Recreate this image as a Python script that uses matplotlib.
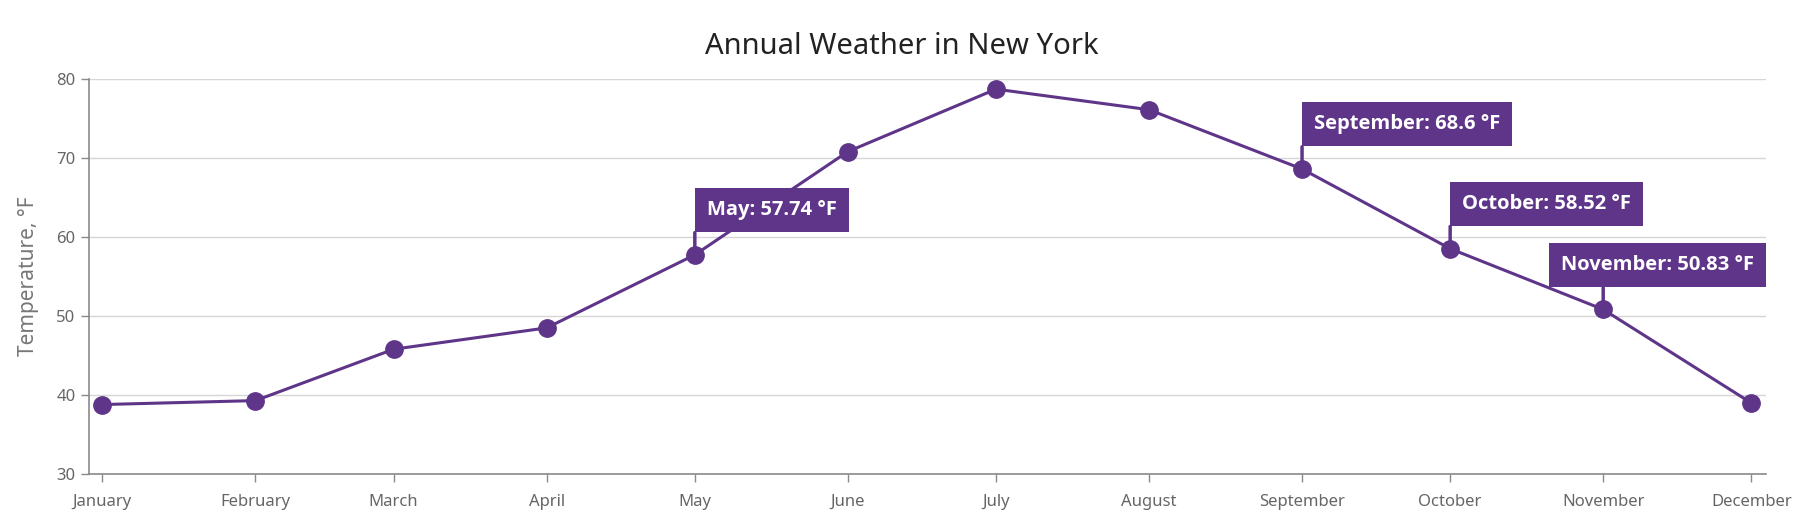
import datetime as dt
import matplotlib
matplotlib.use("Agg")
import matplotlib.pyplot as plt

plt.rcParams['font.family'] = ['Noto Sans', 'DejaVu Sans']

# Datos
meses = ['January', 'February', 'March', 'April', 'May', 'June', 'July',
         'August', 'September', 'October', 'November', 'December']
fechas = [dt.datetime(2023, m, 1) for m in range(1, 13)]
temperaturas = [38.8, 39.3, 45.8, 48.5, 57.74, 70.8, 78.7, 76.1, 68.6, 58.52, 50.83, 39.0]
# meses con etiqueta visible
etiquetados = ['May', 'September', 'October', 'November']

morado = '#5f358a'

fig = plt.figure(figsize=(18.04, 5.21), dpi=100)
ax = fig.add_axes([0.0491, 0.090, 0.9299, 0.7586])

ax.plot(fechas, temperaturas, color=morado, lw=2.2, marker='o', markersize=12.5,
        zorder=3, clip_on=False)

ax.set_ylim(30, 80)
ax.set_yticks([30, 40, 50, 60, 70, 80])
ax.set_xlim(fechas[0] - dt.timedelta(days=2.8), fechas[-1] + dt.timedelta(days=3))
ax.set_xticks(fechas)
ax.set_xticklabels(meses)

ax.grid(axis='y', color='#d6d6d6', lw=1)
ax.set_axisbelow(True)
for lado in ['top', 'right']:
    ax.spines[lado].set_visible(False)
for lado in ['left', 'bottom']:
    ax.spines[lado].set_color('#8a8a8a')
    ax.spines[lado].set_linewidth(1.2)
ax.tick_params(axis='both', colors='#8a8a8a', labelcolor='#666666',
               labelsize=12, length=6, width=1)
ax.tick_params(axis='x', pad=8)

ax.set_ylabel('Temperature, °F', fontsize=15, color='#777777', labelpad=12)
ax.set_title('Annual Weather in New York', fontsize=21, color='#222222', pad=18, x=0.485)

# Etiquetas de los puntos
largo = 16
for mes, f, t in zip(meses, fechas, temperaturas):
    if mes not in etiquetados:
        continue
    ax.annotate('', xy=(f, t), xytext=(0, largo), textcoords='offset points',
                arrowprops=dict(arrowstyle='-', color=morado, lw=2.5,
                                shrinkA=0, shrinkB=0), zorder=4)
    texto = f'{mes}: {t:g} °F'
    caja = dict(boxstyle='square,pad=0.6', fc=morado, ec='none')
    if mes == 'November':
        ax.annotate(texto, xy=(f, t), xytext=(0.993, largo + 9),
                    textcoords=('axes fraction', 'offset points'),
                    ha='right', va='bottom', color='white', fontsize=14.5,
                    family=['Open Sans', 'DejaVu Sans'],
                    fontweight='bold', bbox=caja, zorder=5, annotation_clip=False)
    else:
        ax.annotate(texto, xy=(f, t), xytext=(8.5, largo + 9),
                    textcoords='offset points', ha='left', va='bottom',
                    color='white', fontsize=14.5, fontweight='bold',
                    family=['Open Sans', 'DejaVu Sans'],
                    bbox=caja, zorder=5)

fig.savefig('out.png', dpi=100)
